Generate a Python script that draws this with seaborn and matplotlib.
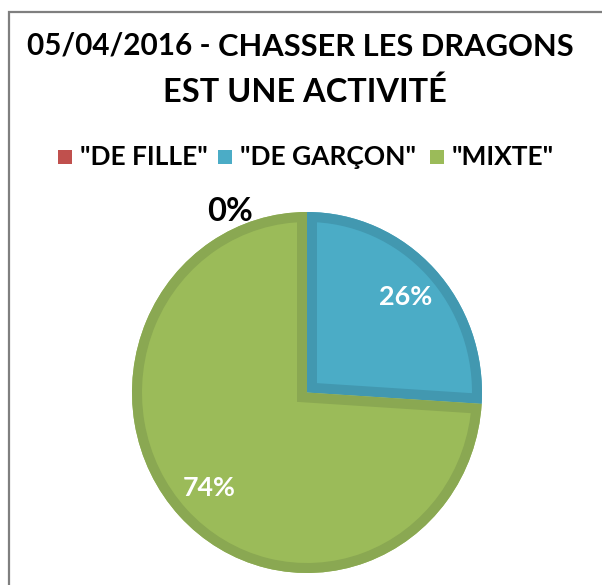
import numpy as np
import matplotlib
matplotlib.use("Agg")
import matplotlib.pyplot as plt
import matplotlib.patches as mpatches
import seaborn as sns

categories = ['"DE FILLE"', '"DE GARÇON"', '"MIXTE"']
values = [0, 26, 74]
pct_labels = ["0%", "26%", "74%"]
title_part1 = "05/04/2016 - "
title_part2 = "CHASSER LES DRAGONS"
title_line2 = "EST UNE ACTIVITÉ"

fill_colors = ["#C0504D", "#4BACC6", "#9BBB59"]
edge_colors = ["#A9423F", "#4298B0", "#8AA852"]

sns.set_theme(style="white")
FONT = ["Lato", "DejaVu Sans"]
plt.rcParams["font.family"] = FONT

W, H = 602, 585
fig = plt.figure(figsize=(W / 100, H / 100), dpi=100)
fig.patch.set_facecolor("white")

def px(x, y):
    return x / W, 1 - y / H

# outer chart border (left & top visible)
border = mpatches.Rectangle(px(9, 12 + 700), 700 / W, 700 / H, transform=fig.transFigure,
                            fill=False, edgecolor="#7F7F7F", linewidth=1.6, clip_on=False)
fig.patches.append(border)

renderer = fig.canvas.get_renderer()

def fit(t, target_w):
    bb = t.get_window_extent(renderer)
    t.set_fontsize(t.get_fontsize() * target_w / bb.width)
    return t.get_fontsize()

# title line 1
t1 = fig.text(*px(27, 45), title_part1, fontsize=28, fontweight="bold", ha="left", va="center", color="black")
fit(t1, 218 - 27)
bb1 = t1.get_window_extent(renderer)
t2 = fig.text(bb1.x1 / W, 1 - 47 / H, title_part2, fontsize=22, fontweight="bold", ha="left", va="center", color="black")
fit(t2, 590 - 234)
# title line 2
t3 = fig.text(*px(305, 92), title_line2, fontsize=28, fontweight="bold", ha="center", va="center", color="black")
fit(t3, 447 - 163)

# pie (slightly elliptical, as in the reference)
cx, cy, rx, ry = 307, 392.5, 175, 180.5
ax = fig.add_axes([(cx - rx) / W, (H - cy - ry) / H, 2 * rx / W, 2 * ry / H])
wedges, _ = ax.pie(values, colors=fill_colors, startangle=90, counterclock=False, radius=1.0,
                   wedgeprops=dict(linewidth=0))
for w, ec in zip(wedges, edge_colors):
    if w.theta2 - w.theta1 <= 0:
        continue
    clip = mpatches.Wedge(w.center, w.r, w.theta1, w.theta2, transform=ax.transData)
    stroke = mpatches.Wedge(w.center, w.r, w.theta1, w.theta2, facecolor="none",
                            edgecolor=ec, linewidth=14.4, joinstyle="miter")
    ax.add_patch(stroke)
    stroke.set_clip_path(clip)
ax.set_xlim(-1, 1)
ax.set_ylim(-1, 1)
ax.set_aspect("auto")
ax.axis("off")

# percent labels
for w, lab, v in zip(wedges, pct_labels, values):
    mid = np.deg2rad((w.theta1 + w.theta2) / 2)
    if v == 0:
        tx = ax.text(-0.44, 1.0, lab, ha="center", va="center", fontsize=20,
                     fontweight="bold", color="black")
        fit(tx, 46)
    else:
        rr = 0.77
        tx = ax.text(rr * np.cos(mid), rr * np.sin(mid), lab, ha="center", va="center",
                     fontsize=20, fontweight="bold", color="white")
        fit(tx, 53)

# legend
leg_x = [58, 218, 430]
leg_text_w = [117, 172, 113]
sizes = []
for lab, tw in zip(categories, leg_text_w):
    probe = fig.text(0, 0, lab, fontsize=16, fontweight="bold")
    sizes.append(fit(probe, tw))
    probe.remove()
leg_fs = float(np.mean(sizes))
for x0, c, lab in zip(leg_x, fill_colors, categories):
    sq = mpatches.Rectangle(px(x0, 164), 14 / W, 14 / H, transform=fig.transFigure,
                            facecolor=c, edgecolor="none")
    fig.patches.append(sq)
    fig.text(*px(x0 + 22, 157), lab, fontsize=leg_fs, fontweight="bold", ha="left",
             va="center", color="black")

fig.savefig("out.png", dpi=100)
